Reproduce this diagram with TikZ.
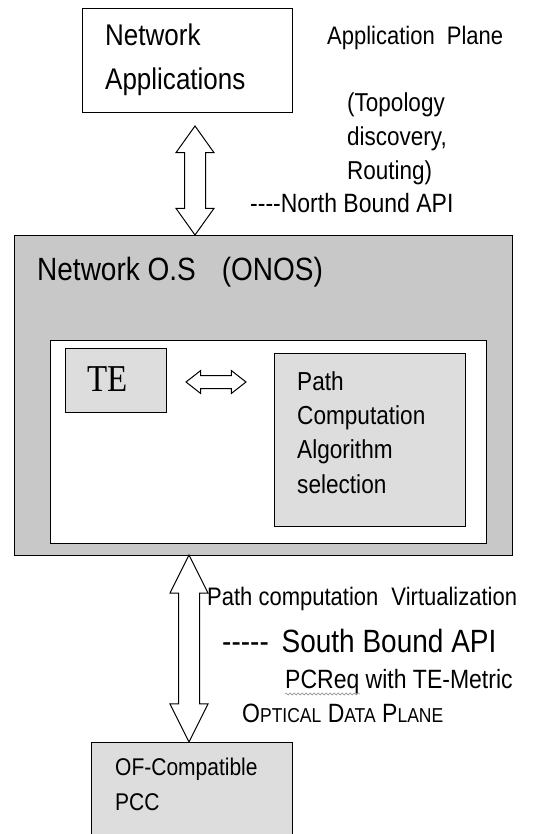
\documentclass[tikz,border=0pt]{standalone}
\usepackage{fontspec}
\setmainfont{Liberation Sans}[Ligatures=TeXOff]
\newfontfamily\serifte{Liberation Serif}
\usepackage{xcolor}
\usetikzlibrary{shapes.arrows,decorations.pathmorphing}
\definecolor{osgray}{RGB}{200,200,200}
\definecolor{boxgray}{RGB}{221,221,221}

\begin{document}
\begin{tikzpicture}[x=1pt,y=-1pt,
    box/.style={draw,line width=1.2pt,anchor=north west,inner sep=0pt},
    lbl/.style={anchor=base west,inner sep=0pt,align=left,yscale=1.15},
    fatarrow/.style={double arrow,draw,fill=white,line width=1pt,inner xsep=0pt}]
    \useasboundingbox (0,0) rectangle (542,834);
    % application plane
    \node[box,minimum width=210pt,minimum height=104pt] (app) at (82,8) {};
    \node[lbl,font=\fontsize{26}{39}\selectfont] (apptxt) at (105,90) {Network\\Applications};
    \node[lbl,font=\fontsize{22}{26}\selectfont] (plane) at (327,45) {Application\hspace{6pt} Plane};
    \node[lbl,font=\fontsize{22.5}{29.6}\selectfont] (topo) at (347,180) {(Topology\\discovery,\\Routing)};
    \node[lbl,font=\fontsize{23}{26}\selectfont] (nbapi) at (250,213) {----North Bound API};
    % controller
    \node[box,fill=osgray,minimum width=498pt,minimum height=320pt] (onos) at (14,235) {};
    \node[lbl,font=\fontsize{28}{30}\selectfont] (onostxt) at (37,280) {Network O.S\hspace{26pt}(ONOS)};
    \node[box,fill=white,minimum width=436pt,minimum height=203pt] (core) at (50,340) {};
    \node[box,fill=boxgray,minimum width=101pt,minimum height=64pt] (te) at (65,348) {};
    \node[lbl,font=\serifte\fontsize{33}{36}\selectfont] (tetxt) at (87,391) {TE};
    \node[box,fill=boxgray,minimum width=191pt,minimum height=173pt] (pca) at (274,353) {};
    \node[lbl,font=\fontsize{22.6}{29.6}\selectfont] (pcatxt) at (297,493) {Path\\Computation\\Algorithm\\selection};
    \node[fatarrow,minimum height=60pt,minimum width=22pt,inner ysep=6pt,
        double arrow head extend=5pt,double arrow tip angle=76] (telink) at (216,382) {};
    % north and south interfaces
    \node[fatarrow,rotate=90,minimum height=109pt,minimum width=37pt,inner ysep=10pt,
        double arrow head extend=8.5pt,double arrow tip angle=71] (nblink) at (195,180.5) {};
    \node[fatarrow,rotate=90,minimum height=187pt,minimum width=37pt,inner ysep=10pt,
        double arrow head extend=8.5pt,double arrow tip angle=53] (sblink) at (189,648.5) {};
    % data plane
    \node[lbl,font=\fontsize{22}{26}\selectfont] (virt) at (207,605) {Path computation\hspace{7pt} Virtualization};
    \node[lbl,font=\fontsize{28}{30}\selectfont] (sbapi) at (222,652) {-----\hspace{5pt} South Bound API};
    \node[lbl,font=\fontsize{23}{26}\selectfont] (pcreq) at (285,688) {PCReq with TE-Metric};
    \draw[gray,decorate,decoration={snake,amplitude=1pt,segment length=4pt}] (285,694) -- (360,694);
    \node[lbl,font=\fontsize{23}{26}\selectfont] (odp) at (242,722)
        {O{\fontsize{17.5}{20}\selectfont PTICAL} D{\fontsize{17.5}{20}\selectfont ATA} P{\fontsize{17.5}{20}\selectfont LANE}};
    \node[box,fill=boxgray,minimum width=201pt,minimum height=110pt] (pcc) at (91,742) {};
    \node[lbl,font=\fontsize{21}{30.4}\selectfont] (pcctxt) at (115,810) {OF-Compatible\\PCC};
\end{tikzpicture}
\end{document}
